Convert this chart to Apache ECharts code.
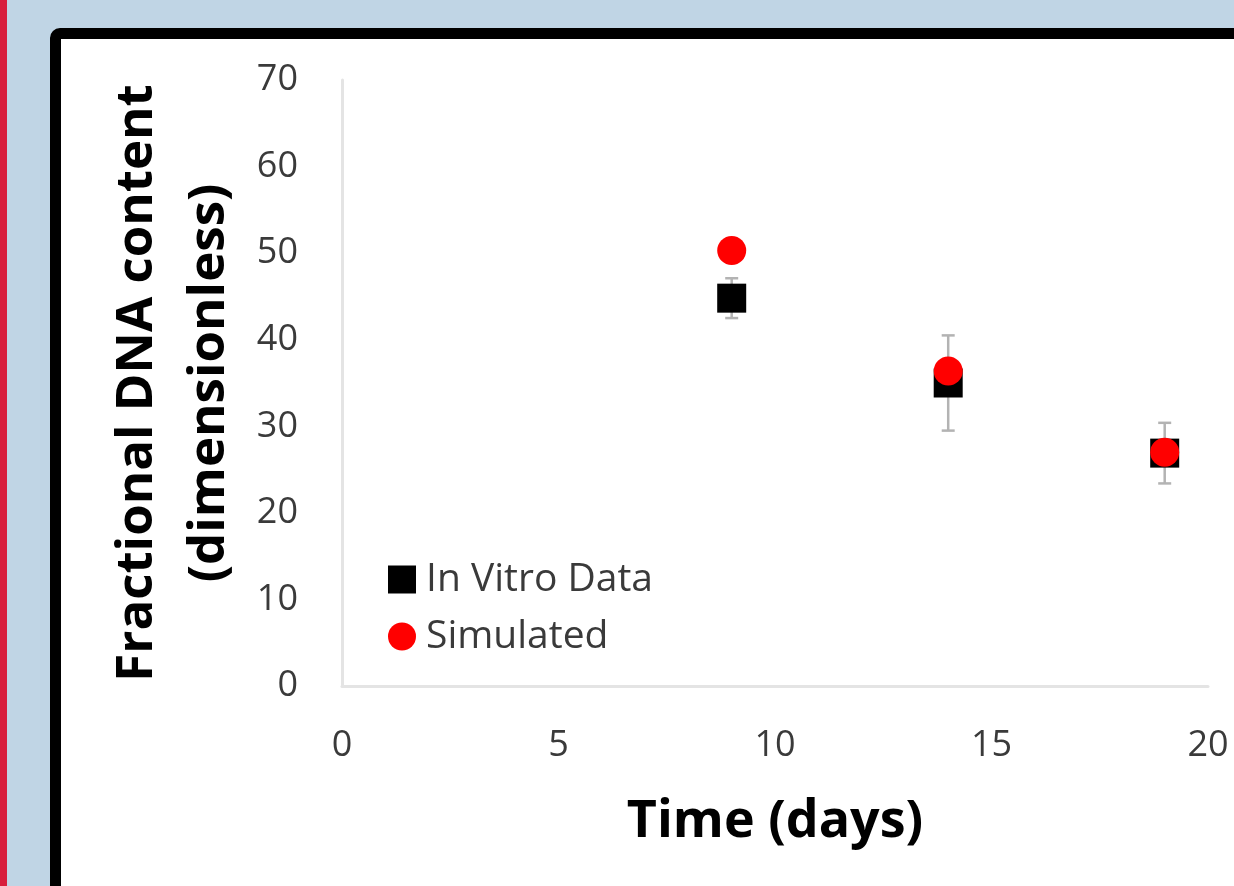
<!DOCTYPE html>
<html>
<head>
<meta charset="utf-8">
<script src="https://cdn.jsdelivr.net/npm/echarts@6/dist/echarts.min.js"></script>
<style>
html,body{margin:0;padding:0;width:1234px;height:886px;overflow:hidden;background:#c0d5e5;}
#strip{position:absolute;left:0;top:0;width:7px;height:886px;background:#d81e3c;}
#frame{position:absolute;left:50px;top:28px;width:1300px;height:1000px;border:11px solid #000;border-radius:10px;background:#fff;box-sizing:border-box;}
#chart{position:absolute;left:0;top:0;width:1234px;height:886px;}
</style>
</head>
<body>
<div id="strip"></div>
<div id="frame"></div>
<div id="chart"></div>
<script>
// Data
const days = [9, 14, 19];
const inVitro = [44.8, 35.0, 26.9];
const inVitroErr = [2.3, 5.5, 3.5];
const simulated = [50.3, 36.4, 27.0];
const xTicks = [0, 5, 10, 15, 20];
const yTicks = [0, 10, 20, 30, 40, 50, 60, 70];
const seriesNames = ['In Vitro Data', 'Simulated'];

const FONT = '"Open Sans", "Liberation Sans", sans-serif';
const chart = echarts.init(document.getElementById('chart'), null, {renderer: 'canvas'});

const errData = days.map((d, i) => [d, inVitro[i] - inVitroErr[i], inVitro[i] + inVitroErr[i]]);

chart.setOption({
  backgroundColor: 'transparent',
  animation: false,
  grid: {left: 342, top: 80, right: 26, bottom: 200, containLabel: false},
  legend: {
    data: [{name: seriesNames[0], icon: 'rect'}, {name: seriesNames[1], icon: 'circle'}],
    orient: 'vertical',
    left: 388, top: 560, padding: 0,
    itemWidth: 28, itemHeight: 28, itemGap: 18,
    textStyle: {fontFamily: FONT, fontSize: 39, color: '#3a3a3a', padding: [0, 0, 0, 5]}
  },
  xAxis: {
    type: 'value', min: xTicks[0], max: xTicks[xTicks.length - 1], interval: 5,
    axisLine: {show: true, lineStyle: {color: '#e4e4e4', width: 3}},
    axisTick: {show: false},
    splitLine: {show: false},
    axisLabel: {fontFamily: FONT, fontSize: 36, color: '#3a3a3a', margin: 42},
    name: 'Time (days)', nameLocation: 'middle', nameGap: 110,
    nameTextStyle: {fontFamily: FONT, fontSize: 52, fontWeight: 'bold', color: '#000'}
  },
  yAxis: {
    type: 'value', min: yTicks[0], max: yTicks[yTicks.length - 1], interval: 10,
    axisLine: {show: true, lineStyle: {color: '#e4e4e4', width: 3}},
    axisTick: {show: false},
    splitLine: {show: false},
    axisLabel: {fontFamily: FONT, fontSize: 36, color: '#3a3a3a', margin: 44},
    name: 'Fractional DNA content\n(dimensionless)', nameLocation: 'middle', nameGap: 92, nameRotate: 90,
    nameTextStyle: {fontFamily: FONT, fontSize: 51, fontWeight: 'bold', color: '#000', lineHeight: 72}
  },
  series: [
    {
      type: 'custom', name: 'err', z: 1, silent: true,
      renderItem: function (params, api) {
        const x = api.value(0);
        const lo = api.coord([x, api.value(1)]);
        const hi = api.coord([x, api.value(2)]);
        const hw = 6.5;
        const st = {stroke: '#b3b3b3', lineWidth: 2.5};
        return {type: 'group', children: [
          {type: 'line', shape: {x1: lo[0], y1: lo[1], x2: hi[0], y2: hi[1]}, style: st},
          {type: 'line', shape: {x1: lo[0] - hw, y1: lo[1], x2: lo[0] + hw, y2: lo[1]}, style: st},
          {type: 'line', shape: {x1: hi[0] - hw, y1: hi[1], x2: hi[0] + hw, y2: hi[1]}, style: st}
        ]};
      },
      data: errData
    },
    {
      type: 'scatter', name: seriesNames[0], z: 2, symbol: 'rect', symbolSize: 29,
      itemStyle: {color: '#000', opacity: 1},
      data: days.map((d, i) => [d, inVitro[i]])
    },
    {
      type: 'scatter', name: seriesNames[1], z: 3, symbol: 'circle', symbolSize: 29,
      itemStyle: {color: '#ff0000', opacity: 1},
      data: days.map((d, i) => [d, simulated[i]])
    }
  ]
});
</script>
</body>
</html>
